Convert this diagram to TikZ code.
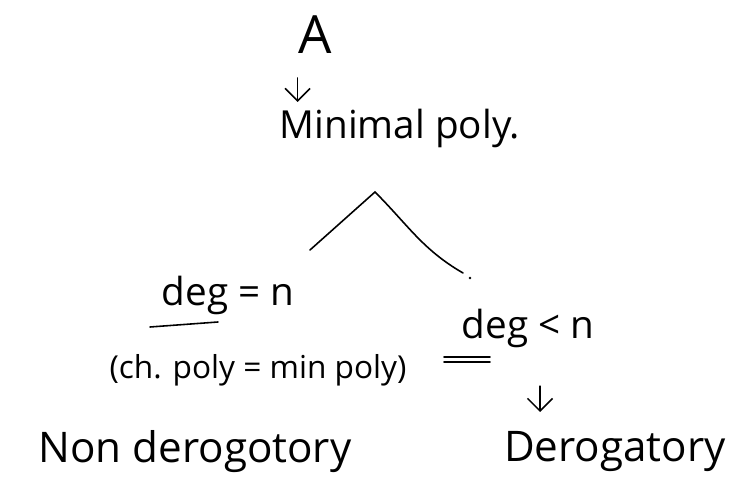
\documentclass[tikz,border=0pt]{standalone}
\usepackage{fontspec}
\setmainfont{Open Sans}
\usetikzlibrary{arrows.meta,calc}

\begin{document}
\begin{tikzpicture}[x=0.02cm, y=-0.02cm, line width=0.9pt, line cap=round,
  hand/.style={font=\fontsize{22}{26}\selectfont, inner sep=0pt},
  >={Straight Barb[length=2.5mm,width=5mm]}]
\useasboundingbox (0,0) rectangle (748,479);
\node[hand, font=\fontsize{30}{34}\selectfont] (A) at (315,35) {A};
\node[hand] (minpoly) at (400,128) {Minimal poly.};
\draw[->] (A.south west |- 0,78) -- (A.south west |- 0,102);
% branching
\coordinate (peak) at (375,192);
\coordinate (lfoot) at (310,250);
\coordinate (rfoot) at (463,273);
\draw (lfoot) -- (peak) to[out=-45,in=150] (rfoot);
\fill (470,278) circle (0.8pt);
\node[hand] (degeq) at (228,295) {deg = n};
\draw (150,327) -- (218,322);
\node[hand, font=\fontsize{18}{21}\selectfont] (chpoly) at (258,370) {(ch. poly = min poly)};
\node[hand] (degless) at (528,328) {deg < n};
\draw (444,357) -- (490,357);
\draw (444,362) -- (490,362);
\draw[->] (degless.south -| 540,0) ++(0,38) -- (540,412);
\node[hand, font=\fontsize{24}{28}\selectfont] (nonder) at (195,452) {Non derogotory};
\node[hand, font=\fontsize{24}{28}\selectfont] (der) at (615,452) {Derogatory};
\end{tikzpicture}
\end{document}
